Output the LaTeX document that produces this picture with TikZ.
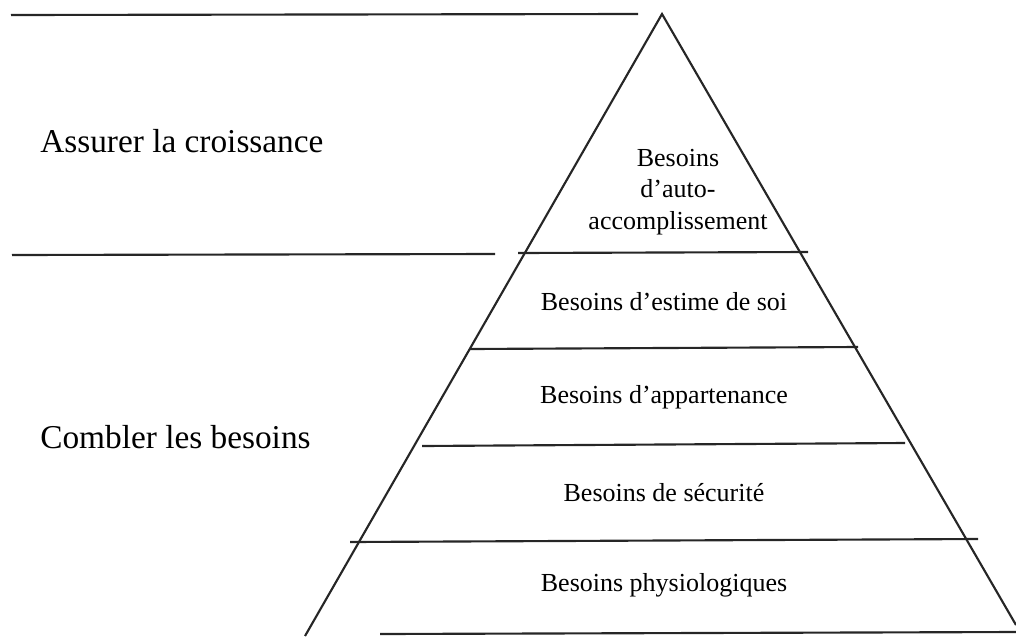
\documentclass[tikz,border=0pt]{standalone}
\usepackage{fontspec}
\setmainfont{Liberation Serif}
\begin{document}
\begin{tikzpicture}[x=0.75pt,y=-0.75pt,
  rule/.style={line width=1.6pt,draw=black!85},
  side/.style={font=\fontsize{25}{30}\selectfont,anchor=west,inner sep=0pt},
  layer/.style={font=\fontsize{19.5}{23.6}\selectfont,align=center,inner sep=0pt}]
\useasboundingbox (0,0) rectangle (1016,636);
% pyramid outline
\coordinate (apex) at (662,14);
\coordinate (bl) at (305,636);
\coordinate (br) at (1016,625);
\draw[rule] (bl) -- (apex) -- (br);
% horizontal rules
\coordinate (t1) at (11,15);   \coordinate (t2) at (638,14);
\coordinate (m1) at (12,255);  \coordinate (m2) at (495,254);
\coordinate (a1) at (518,253); \coordinate (a2) at (808,252);
\coordinate (b1) at (470,349); \coordinate (b2) at (858,347);
\coordinate (c1) at (422,446); \coordinate (c2) at (905,443);
\coordinate (d1) at (350,542); \coordinate (d2) at (978,539);
\coordinate (e1) at (380,634); \coordinate (e2) at (1016,632);
\draw[rule] (t1) -- (t2);
\draw[rule] (m1) -- (m2);
\draw[rule] (a1) -- (a2);
\draw[rule] (b1) -- (b2);
\draw[rule] (c1) -- (c2);
\draw[rule] (d1) -- (d2);
\draw[rule] (e1) -- (e2);
% side labels
\node[side] (grow) at (40,141) {Assurer la croissance};
\node[side] (fill) at (40,437) {Combler les besoins};
% layer labels
\node[layer] (l5) at (678,192) {Besoins\\d’auto-\\accomplissement};
\node[layer] (l4) at (664,302) {Besoins d’estime de soi};
\node[layer] (l3) at (664,397) {Besoins d’appartenance};
\node[layer] (l2) at (664,493) {Besoins de sécurité};
\node[layer] (l1) at (664,585) {Besoins physiologiques};
\end{tikzpicture}
\end{document}
